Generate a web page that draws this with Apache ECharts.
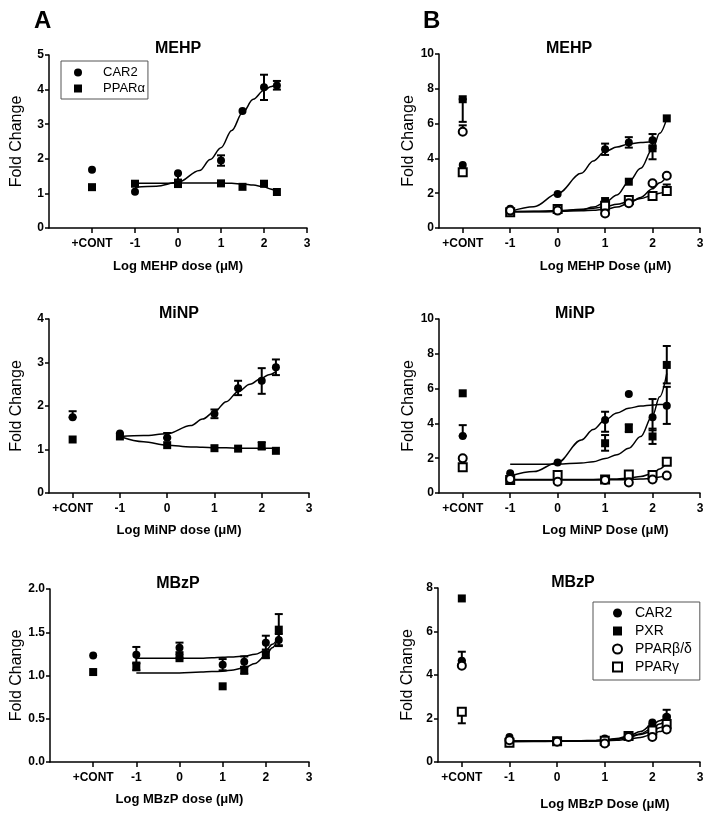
<!DOCTYPE html>
<html>
<head>
<meta charset="utf-8">
<script src="https://cdn.jsdelivr.net/npm/echarts@6/dist/echarts.min.js"></script>
<style>
html,body{margin:0;padding:0;background:#fff;}
#c{width:713px;height:819px;}
</style>
</head>
<body>
<div id="c"></div>
<script>
// ---------- shared x positions ----------
const doseX = [-2, -1, 0, 1, 1.5, 2, 2.3];   // -2 = "+CONT" slot, then log dose
const fitX = [-1, -0.5, 0, 0.5, 0.75, 1, 1.25, 1.5, 1.75, 2, 2.15, 2.3];
const xTicks = [-2, -1, 0, 1, 2, 3];
const xTickLabels = ['+CONT', '-1', '0', '1', '2', '3'];

// ---------- Panel A: MEHP ----------
const aMehpCar2 = [1.68, 1.05, 1.58, 1.95, 3.38, 4.07, 4.12];
const aMehpCar2Err = [null, null, [1.40, 1.58], [1.80, 2.10], null, [3.70, 4.43], [4.00, 4.25]];
const aMehpPparA = [1.18, 1.28, 1.27, 1.29, 1.19, 1.28, 1.04];
const aMehpCar2Fit = [1.18, 1.21, 1.32, 1.66, 1.98, 2.32, 2.82, 3.33, 3.72, 3.98, 4.08, 4.17];
const aMehpPparAFit = [1.29, 1.29, 1.30, 1.30, 1.30, 1.30, 1.29, 1.27, 1.24, 1.19, 1.13, 1.05];

// ---------- Panel A: MiNP ----------
const aMinpCar2 = [1.74, 1.37, 1.27, 1.82, 2.41, 2.58, 2.89];
const aMinpCar2Err = [[1.74, 1.88], null, [1.27, 1.38], [1.72, 1.92], [2.25, 2.58], [2.28, 2.87], [2.71, 3.07]];
const aMinpPparA = [1.23, 1.30, 1.10, 1.03, 1.02, 1.08, 0.97];
const aMinpPparAErr = [null, null, null, null, null, [1.00, 1.17], null];
const aMinpCar2Fit = [1.30, 1.32, 1.36, 1.55, 1.70, 1.87, 2.10, 2.33, 2.50, 2.64, 2.72, 2.79];
const aMinpPparAFit = [1.30, 1.18, 1.10, 1.06, 1.05, 1.04, 1.04, 1.03, 1.03, 1.03, 1.03, 1.03];

// ---------- Panel A: MBzP ----------
const aMbzpCar2 = [1.23, 1.24, 1.32, 1.125, 1.16, 1.38, 1.41];
const aMbzpCar2Err = [null, [1.15, 1.33], [1.25, 1.38], [1.06, 1.19], [1.10, 1.22], [1.30, 1.46], [1.35, 1.48]];
const aMbzpPparA = [1.04, 1.10, 1.20, 0.875, 1.06, 1.24, 1.53];
const aMbzpPparAErr = [null, [1.06, 1.14], [1.20, 1.27], null, [1.02, 1.10], [1.20, 1.28], [1.34, 1.71]];
const aMbzpCar2Fit = [1.20, 1.20, 1.20, 1.20, 1.205, 1.21, 1.215, 1.225, 1.245, 1.29, 1.36, 1.46];
const aMbzpPparAFit = [1.03, 1.03, 1.03, 1.04, 1.045, 1.05, 1.065, 1.09, 1.14, 1.23, 1.32, 1.45];

// ---------- Panel B: MEHP ----------
const bMehpCar2 = [3.62, 1.10, 1.95, 4.52, 4.92, 5.05, null];
const bMehpCar2Err = [null, null, null, [4.20, 4.85], [4.62, 5.22], [4.70, 5.40], null];
const bMehpPxr = [7.40, 0.95, 1.05, 1.55, 2.66, 4.58, 6.30];
const bMehpPxrErr = [[6.10, 7.40], null, null, null, null, [3.95, 4.58], null];
const bMehpPparBD = [5.53, 1.00, 1.00, 0.84, 1.42, 2.57, 3.00];
const bMehpPparBDErr = [[5.53, 5.90], null, null, null, null, null, null];
const bMehpPparG = [3.20, 0.90, 1.09, 1.28, 1.61, 1.84, 2.13];
const bMehpPparGErr = [null, null, null, null, null, null, [2.13, 2.50]];
const bMehpCar2Fit = [0.95, 1.22, 1.98, 3.14, 3.85, 4.39, 4.66, 4.83, 4.92, 4.96, null, null];
const bMehpPxrFit = [0.93, 0.93, 0.95, 1.05, 1.20, 1.47, 1.90, 2.66, 3.43, 4.54, 5.44, 6.30];
const bMehpPparBDFit = [0.95, 0.95, 0.96, 0.99, 1.02, 1.08, 1.20, 1.42, 1.76, 2.25, 2.60, 2.97];
const bMehpPparGFit = [0.93, 0.96, 1.00, 1.08, 1.14, 1.22, 1.36, 1.52, 1.70, 1.88, 2.00, 2.12];

// ---------- Panel B: MiNP ----------
const bMinpCar2 = [3.28, 1.13, 1.76, 4.20, 5.69, 4.35, 5.02];
const bMinpCar2Err = [[3.28, 3.90], null, null, [3.52, 4.67], null, [3.60, 5.40], [3.97, 6.10]];
const bMinpPxr = [5.73, 0.75, 1.00, 2.86, 3.72, 3.25, 7.36];
const bMinpPxrErr = [null, null, null, [2.43, 3.33], [3.50, 3.95], [2.82, 3.70], [6.30, 8.45]];
const bMinpPparBD = [1.99, 0.80, 0.65, 0.75, 0.60, 0.78, 1.00];
const bMinpPparG = [1.48, 0.75, 1.03, 0.78, 1.06, 1.03, 1.80];
const bMinpCar2Fit = [0.98, 1.23, 1.76, 3.05, 3.65, 4.20, 4.60, 4.87, 5.00, 5.06, 5.08, 5.10];
const bMinpPxrFit = [1.65, 1.65, 1.66, 1.72, 1.80, 1.98, 2.20, 2.57, 3.24, 4.45, 5.53, 6.88];
const bMinpPparBDFit = [0.75, 0.75, 0.75, 0.75, 0.75, 0.75, 0.76, 0.77, 0.80, 0.85, 0.92, 1.00];
const bMinpPparGFit = [0.78, 0.78, 0.78, 0.78, 0.78, 0.79, 0.81, 0.85, 0.95, 1.12, 1.38, 1.75];

// ---------- Panel B: MBzP ----------
const bMbzpCar2 = [4.66, 1.15, 0.98, 1.08, 1.18, 1.82, 2.08];
const bMbzpCar2Err = [[4.66, 5.07], null, null, null, null, null, [2.08, 2.40]];
const bMbzpPxr = [7.52, 0.95, 0.95, 1.00, 1.20, 1.60, 2.00];
const bMbzpPparBD = [4.43, 1.00, 0.93, 0.85, 1.15, 1.15, 1.50];
const bMbzpPparG = [2.31, 0.88, 0.95, 0.98, 1.20, 1.45, 1.75];
const bMbzpPparGErr = [[1.78, 2.31], null, null, null, null, null, null];
const bMbzpCar2Fit = [0.97, 0.97, 0.97, 0.98, 0.99, 1.01, 1.08, 1.20, 1.40, 1.72, 1.90, 2.12];
const bMbzpPxrFit = [0.96, 0.96, 0.96, 0.97, 0.98, 1.00, 1.05, 1.14, 1.30, 1.55, 1.75, 1.98];
const bMbzpPparBDFit = [0.95, 0.95, 0.95, 0.96, 0.96, 0.97, 1.00, 1.05, 1.13, 1.27, 1.40, 1.55];
const bMbzpPparGFit = [0.93, 0.94, 0.95, 0.96, 0.98, 1.00, 1.06, 1.15, 1.27, 1.42, 1.58, 1.76];

// ---------- text ----------
const panelTitles = ['MEHP', 'MiNP', 'MBzP', 'MEHP', 'MiNP', 'MBzP'];
const xNames = ['Log MEHP dose (\u03BCM)', 'Log MiNP dose (\u03BCM)', 'Log MBzP dose (\u03BCM)',
                'Log MEHP Dose (\u03BCM)', 'Log MiNP Dose (\u03BCM)', 'Log MBzP Dose (\u03BCM)'];
const yMax = [5, 4, 2, 10, 10, 8];
const yStep = [1, 1, 0.5, 2, 2, 2];
const xMin = [-3, -2.5, -3, -2.5, -2.5, -2.5];

// ---------- layout (pixels) ----------
const grids = [
  {left: 49, top: 55, width: 258, height: 173},
  {left: 49, top: 319, width: 260, height: 174},
  {left: 50, top: 589, width: 259, height: 173},
  {left: 439, top: 54, width: 261, height: 174},
  {left: 439, top: 319, width: 261, height: 174},
  {left: 438, top: 588, width: 262, height: 174}
];
const titleCenters = [[178, 50], [179, 315], [178, 585], [569, 50], [575, 315], [573, 584]];
const xNameGap = [32, 31, 31, 32, 31, 36];

const FONT = 'Arial, "Liberation Sans", Helvetica, sans-serif';
const BLACK = '#000';

const styles = {
  CAR2: {symbol: 'circle', symbolSize: 8, itemStyle: {color: BLACK, opacity: 1}},
  PPARa: {symbol: 'rect', symbolSize: 8, itemStyle: {color: BLACK, opacity: 1}},
  PXR: {symbol: 'rect', symbolSize: 8, itemStyle: {color: BLACK, opacity: 1}},
  PPARBD: {symbol: 'circle', symbolSize: 8, itemStyle: {color: '#fff', borderColor: BLACK, borderWidth: 2, opacity: 1}},
  PPARG: {symbol: 'rect', symbolSize: 8, itemStyle: {color: '#fff', borderColor: BLACK, borderWidth: 2, opacity: 1}}
};

function scatterSeries(name, gi, vals, st) {
  const data = [];
  vals.forEach((v, i) => { if (v != null) data.push([doseX[i], v]); });
  return Object.assign({type: 'scatter', name: name, xAxisIndex: gi, yAxisIndex: gi, data: data,
    z: 4, silent: true}, JSON.parse(JSON.stringify(st)));
}
function fitSeries(gi, vals) {
  const data = [];
  vals.forEach((v, i) => { if (v != null) data.push([fitX[i], v]); });
  return {type: 'line', name: 'fit', xAxisIndex: gi, yAxisIndex: gi, data: data, showSymbol: false,
    smooth: 0.35, smoothMonotone: 'x', silent: true, z: 2,
    lineStyle: {color: BLACK, width: 1.5, opacity: 1}};
}
function renderErr(params, api) {
  const x = api.value(0);
  const lo = api.coord([x, api.value(1)]);
  const hi = api.coord([x, api.value(2)]);
  const w = 4;
  const st = {stroke: BLACK, lineWidth: 2, fill: null};
  return {type: 'group', children: [
    {type: 'line', shape: {x1: lo[0], y1: lo[1], x2: hi[0], y2: hi[1]}, style: st},
    {type: 'line', shape: {x1: lo[0] - w, y1: lo[1], x2: lo[0] + w, y2: lo[1]}, style: st},
    {type: 'line', shape: {x1: hi[0] - w, y1: hi[1], x2: hi[0] + w, y2: hi[1]}, style: st}
  ]};
}
function errSeries(gi, errs) {
  const data = [];
  errs.forEach((e, i) => { if (e) data.push([doseX[i], e[0], e[1]]); });
  return {type: 'custom', name: 'err', xAxisIndex: gi, yAxisIndex: gi, data: data,
    renderItem: renderErr, encode: {x: 0, y: [1, 2]}, silent: true, z: 3};
}

// panel definitions built from the named arrays
const panels = [
  {fits: [aMehpCar2Fit, aMehpPparAFit], errs: [aMehpCar2Err],
   pts: [['CAR2', aMehpCar2, 'CAR2'], ['PPAR\u03B1', aMehpPparA, 'PPARa']]},
  {fits: [aMinpCar2Fit, aMinpPparAFit], errs: [aMinpCar2Err, aMinpPparAErr],
   pts: [['CAR2', aMinpCar2, 'CAR2'], ['PPAR\u03B1', aMinpPparA, 'PPARa']]},
  {fits: [aMbzpCar2Fit, aMbzpPparAFit], errs: [aMbzpCar2Err, aMbzpPparAErr],
   pts: [['CAR2', aMbzpCar2, 'CAR2'], ['PPAR\u03B1', aMbzpPparA, 'PPARa']]},
  {fits: [bMehpCar2Fit, bMehpPxrFit, bMehpPparBDFit, bMehpPparGFit],
   errs: [bMehpCar2Err, bMehpPxrErr, bMehpPparBDErr, bMehpPparGErr],
   pts: [['CAR2', bMehpCar2, 'CAR2'], ['PXR', bMehpPxr, 'PXR'], ['PPAR\u03B3', bMehpPparG, 'PPARG'], ['PPAR\u03B2/\u03B4', bMehpPparBD, 'PPARBD']]},
  {fits: [bMinpCar2Fit, bMinpPxrFit, bMinpPparBDFit, bMinpPparGFit],
   errs: [bMinpCar2Err, bMinpPxrErr],
   pts: [['CAR2', bMinpCar2, 'CAR2'], ['PXR', bMinpPxr, 'PXR'], ['PPAR\u03B3', bMinpPparG, 'PPARG'], ['PPAR\u03B2/\u03B4', bMinpPparBD, 'PPARBD']]},
  {fits: [bMbzpCar2Fit, bMbzpPxrFit, bMbzpPparBDFit, bMbzpPparGFit],
   errs: [bMbzpCar2Err, bMbzpPparGErr],
   pts: [['CAR2', bMbzpCar2, 'CAR2'], ['PXR', bMbzpPxr, 'PXR'], ['PPAR\u03B3', bMbzpPparG, 'PPARG'], ['PPAR\u03B2/\u03B4', bMbzpPparBD, 'PPARBD']]}
];

const series = [];
panels.forEach((p, gi) => {
  p.fits.forEach(f => series.push(fitSeries(gi, f)));
  p.errs.forEach(e => series.push(errSeries(gi, e)));
  p.pts.forEach(t => series.push(scatterSeries(t[0], gi, t[1], styles[t[2]])));
});

const axisLineStyle = {color: BLACK, width: 1.5};
const tickLabelStyle = {color: BLACK, fontFamily: FONT, fontWeight: 'bold', fontSize: 12};

const xAxes = grids.map((g, i) => ({
  type: 'value', gridIndex: i, min: xMin[i], max: 3,
  axisLine: {show: true, onZero: false, lineStyle: axisLineStyle},
  axisTick: {show: true, length: 5, lineStyle: axisLineStyle, customValues: xTicks},
  axisLabel: Object.assign({customValues: xTicks, margin: 10,
    formatter: v => { const k = xTicks.indexOf(v); return k >= 0 ? xTickLabels[k] : ''; }}, tickLabelStyle),
  splitLine: {show: false},
  name: xNames[i], nameLocation: 'middle', nameGap: xNameGap[i],
  nameTextStyle: {color: BLACK, fontFamily: FONT, fontWeight: 'bold', fontSize: 13,
    padding: i >= 3 ? [0, 0, 0, 72] : 0}
}));
const yAxes = grids.map((g, i) => ({
  type: 'value', gridIndex: i, min: 0, max: yMax[i], interval: yStep[i],
  axisLine: {show: true, onZero: false, lineStyle: axisLineStyle},
  axisTick: {show: true, length: 4, lineStyle: axisLineStyle},
  axisLabel: Object.assign({margin: 5,
    formatter: v => (yStep[i] < 1 ? v.toFixed(1) : String(v))}, tickLabelStyle),
  splitLine: {show: false},
  name: 'Fold Change', nameLocation: 'middle', nameGap: i >= 3 ? 22 : 24,
  nameTextStyle: {color: BLACK, fontFamily: FONT, fontSize: 16, fontWeight: 'normal'}
}));

const titles = panelTitles.map((t, i) => ({
  text: t, left: titleCenters[i][0], top: titleCenters[i][1] - 9, textAlign: 'center', padding: 0,
  textStyle: {color: BLACK, fontFamily: FONT, fontWeight: 'bold', fontSize: 16}
}));
titles.push({text: 'A', left: 34, top: 9, padding: 0,
  textStyle: {color: BLACK, fontFamily: FONT, fontWeight: 'bold', fontSize: 24}});
titles.push({text: 'B', left: 423, top: 9, padding: 0,
  textStyle: {color: BLACK, fontFamily: FONT, fontWeight: 'bold', fontSize: 24}});

const openStyle = {color: '#fff', borderColor: BLACK, borderWidth: 2};
const legends = [
  {left: 61, top: 61, orient: 'vertical', selectedMode: false, itemGap: 3,
   itemWidth: 8, itemHeight: 8, padding: [5, 3, 4, 13], borderColor: '#555', borderWidth: 1,
   textStyle: {color: BLACK, fontFamily: FONT, fontSize: 13, padding: [0, 0, 0, 16]},
   data: [{name: 'CAR2', icon: 'circle', itemStyle: {color: BLACK}},
          {name: 'PPAR\u03B1', icon: 'rect', itemStyle: {color: BLACK}}]},
  {left: 593, top: 602, orient: 'vertical', selectedMode: false, itemGap: 4,
   itemWidth: 9, itemHeight: 9, padding: [4, 8, 6, 19], borderColor: '#555', borderWidth: 1,
   textStyle: {color: BLACK, fontFamily: FONT, fontSize: 14, padding: [0, 0, 0, 8]},
   data: [{name: 'CAR2', icon: 'circle', itemStyle: {color: BLACK}},
          {name: 'PXR', icon: 'rect', itemStyle: {color: BLACK}},
          {name: 'PPAR\u03B2/\u03B4', icon: 'circle', itemStyle: openStyle},
          {name: 'PPAR\u03B3', icon: 'rect', itemStyle: openStyle}]}
];

const chart = echarts.init(document.getElementById('c'), null, {renderer: 'canvas'});
chart.setOption({
  backgroundColor: '#fff',
  animation: false,
  title: titles,
  legend: legends,
  grid: grids,
  xAxis: xAxes,
  yAxis: yAxes,
  series: series
});
</script>
</body>
</html>
